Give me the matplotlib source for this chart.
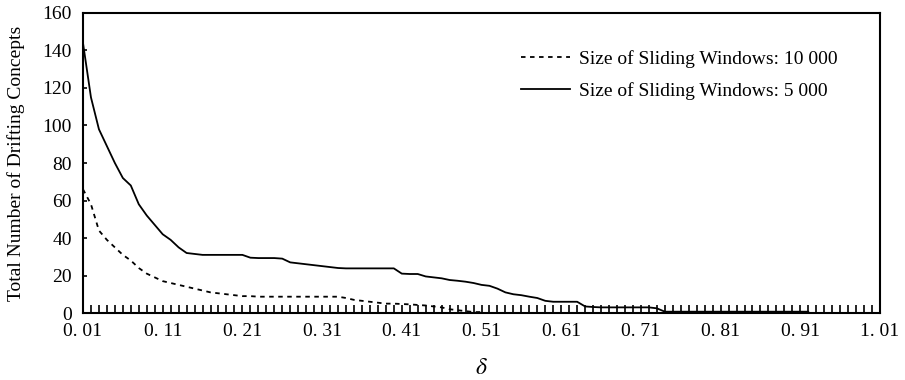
import numpy as np
import matplotlib
matplotlib.use("Agg")
import matplotlib.pyplot as plt
from matplotlib.ticker import MultipleLocator, FixedLocator, FixedFormatter

plt.rcParams["font.family"] = ["Liberation Serif", "DejaVu Serif"]
plt.rcParams["mathtext.fontset"] = "stix"

# %% data
delta_10000 = np.round(np.arange(0.01, 0.515, 0.01), 2)
drift_10000 = [66, 58, 44, 39, 35, 31, 28, 24, 21, 19,
               17, 16, 15, 14, 13, 12, 11, 10.5, 10, 9.5,
               9, 9, 8.7, 8.7, 8.7, 8.7, 8.7, 8.7, 8.7, 8.7,
               8.7, 8.7, 8.7, 8, 7, 6.5, 6, 5.5, 5, 5,
               4.8, 4.6, 4.3, 4, 3.5, 3, 2, 1.5, 1, 0.5,
               0.5]

delta_5000 = np.round(np.arange(0.01, 0.925, 0.01), 2)
drift_5000 = [144, 115, 98, 89, 80, 72, 68, 58, 52, 47,
              42, 39, 35, 32, 31.5, 31, 31, 31, 31, 31,
              31, 29.5, 29.3, 29.3, 29.3, 29, 27, 26.5, 26, 25.5,
              25, 24.5, 24, 23.8, 23.8, 23.8, 23.8, 23.8, 23.8, 23.8,
              21, 20.8, 20.8, 19.5, 19, 18.5, 17.6, 17.2, 16.7, 16,
              15, 14.5, 13, 11, 10, 9.5, 8.7, 8, 6.5, 6,
              6, 6, 6, 3.5, 3.2, 3, 3, 3, 3, 3,
              3, 3, 2.5, 0.7, 0.7, 0.7, 0.7, 0.7, 0.7, 0.7,
              0.7, 0.7, 0.7, 0.7, 0.7, 0.7, 0.7, 0.7, 0.7, 0.7,
              0.7, 0.7]

x_ticks = [0.01, 0.11, 0.21, 0.31, 0.41, 0.51, 0.61, 0.71, 0.81, 0.91, 1.01]
x_tick_labels = ["0. 01", "0. 11", "0. 21", "0. 31", "0. 41", "0. 51",
                 "0. 61", "0. 71", "0. 81", "0. 91", "1. 01"]
y_ticks = [0, 20, 40, 60, 80, 100, 120, 140, 160]

# %% plot
fig = plt.figure(figsize=(9.05, 3.8), dpi=100)
ax = fig.add_axes([0.0917, 0.1763, 0.8807, 0.7895])

ax.plot(delta_10000, drift_10000, color="black", lw=1.3, linestyle=(0, (2.5, 2.5)),
        label="Size of Sliding Windows: 10 000")
ax.plot(delta_5000, drift_5000, color="black", lw=1.3,
        label="Size of Sliding Windows: 5 000")

ax.set_xlim(0.01, 1.01)
ax.set_ylim(0, 160)

ax.xaxis.set_major_locator(FixedLocator(x_ticks))
ax.xaxis.set_major_formatter(FixedFormatter(x_tick_labels))
ax.xaxis.set_minor_locator(MultipleLocator(0.01))
ax.tick_params(axis="x", which="both", direction="in", length=6, width=1.2,
               labelsize=14, pad=7)
ax.set_yticks(y_ticks)
ax.tick_params(axis="y", direction="in", length=3, width=1.2, labelsize=14, pad=8)

for s in ax.spines.values():
    s.set_linewidth(1.5)

ax.set_ylabel("Total Number of Drifting Concepts", fontsize=14, labelpad=12.5)
ax.set_xlabel(r"$\delta$", fontsize=17, labelpad=13)

ax.legend(loc="upper right", bbox_to_anchor=(0.957, 0.903), frameon=False,
          fontsize=14, handlelength=2.5, handletextpad=0.5, labelspacing=0.75,
          borderaxespad=0)

plt.savefig("out.png", dpi=100)
